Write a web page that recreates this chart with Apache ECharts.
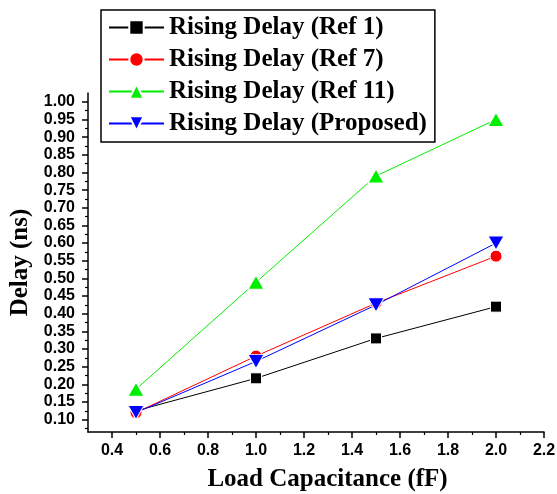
<!DOCTYPE html>
<html>
<head>
<meta charset="utf-8">
<script src="https://cdn.jsdelivr.net/npm/echarts@6/dist/echarts.min.js"></script>
<style>
  html, body { margin: 0; padding: 0; background: #fff; }
  #chart { width: 557px; height: 494px; }
</style>
</head>
<body>
<div id="chart"></div>
<script>
// load capacitance (fF)
const loadCap = [0.5, 1.0, 1.5, 2.0];
// rising delay (ns)
const ref1 = [0.125, 0.217, 0.33, 0.42];
const ref7 = [0.12, 0.28, 0.43, 0.563];
const ref11 = [0.186, 0.489, 0.79, 0.95];
const proposed = [0.12, 0.265, 0.425, 0.6];
const seriesNames = [
  "Rising Delay (Ref 1)",
  "Rising Delay (Ref 7)",
  "Rising Delay (Ref 11)",
  "Rising Delay (Proposed)",
];
// tick labels
const xTicks = [0.4, 0.6, 0.8, 1.0, 1.2, 1.4, 1.6, 1.8, 2.0, 2.2];
const xMinor = [0.5, 0.7, 0.9, 1.1, 1.3, 1.5, 1.7, 1.9, 2.1];
const yTicks = [0.1, 0.15, 0.2, 0.25, 0.3, 0.35, 0.4, 0.45, 0.5, 0.55, 0.6, 0.65, 0.7, 0.75, 0.8, 0.85, 0.9, 0.95, 1.0];
const yMinor = [0.075, 0.125, 0.175, 0.225, 0.275, 0.325, 0.375, 0.425, 0.475, 0.525, 0.575, 0.625, 0.675, 0.725, 0.775, 0.825, 0.875, 0.925, 0.975];

const serif = "'Liberation Serif', 'Times New Roman', serif";
const sans = "'Liberation Sans', Arial, sans-serif";

const chart = echarts.init(document.getElementById("chart"));

const axisLineStyle = { show: true, onZero: false, lineStyle: { color: "#000", width: 1.5 } };

const styles = [
  { color: "#000000", symbol: "rect", size: 11, rotate: 0 },
  { color: "#ff0000", symbol: "circle", size: 12, rotate: 0 },
  { color: "#00ee00", symbol: "triangle", size: [16, 14], rotate: 0 },
  { color: "#0000ff", symbol: "triangle", size: [16, 14], rotate: 180 },
];
const values = [ref1, ref7, ref11, proposed];

const option = {
  animation: false,
  backgroundColor: "#fff",
  grid: {
    left: 88,
    right: 13,
    top: 93,
    bottom: 62,
    containLabel: false,
    outerBoundsMode: "none",
  },
  legend: {
    left: 101,
    top: 10,
    orient: "vertical",
    padding: [5, 8, 6, 7],
    itemWidth: 55,
    itemHeight: 18,
    itemGap: 7,
    borderColor: "#000",
    borderWidth: 1.5,
    textStyle: {
      fontFamily: serif,
      fontWeight: "bold",
      fontSize: 25,
      color: "#000",
    },
    data: seriesNames,
  },
  xAxis: [
    {
      type: "value",
      min: 0.3,
      max: 2.2,
      position: "bottom",
      name: "Load Capacitance (fF)",
      nameLocation: "middle",
      nameGap: 35,
      nameTextStyle: {
        fontFamily: serif,
        fontWeight: "bold",
        fontSize: 25,
        color: "#000",
        padding: [0, 0, 0, 23],
      },
      axisLine: axisLineStyle,
      axisTick: { show: true, inside: false, length: 6, customValues: xTicks, lineStyle: { color: "#000", width: 1.5 } },
      axisLabel: {
        customValues: xTicks,
        margin: 11,
        fontFamily: sans,
        fontWeight: "bold",
        fontSize: 16,
        color: "#000",
        formatter: (v) => v.toFixed(1),
      },
      splitLine: { show: false },
    },
    {
      // minor ticks only
      type: "value",
      min: 0.3,
      max: 2.2,
      position: "bottom",
      offset: 0,
      axisLine: { show: false, onZero: false },
      axisTick: { show: true, length: 3, customValues: xMinor, lineStyle: { color: "#000", width: 1.2 } },
      axisLabel: { show: false },
      splitLine: { show: false },
    },
  ],
  yAxis: [
    {
      type: "value",
      min: 0.065,
      max: 1.025,
      position: "left",
      name: "Delay (ns)",
      nameLocation: "middle",
      nameGap: 55,
      nameRotate: 90,
      nameTextStyle: {
        fontFamily: serif,
        fontWeight: "bold",
        fontSize: 25,
        color: "#000",
      },
      axisLine: axisLineStyle,
      axisTick: { show: true, length: 6, customValues: yTicks, lineStyle: { color: "#000", width: 1.5 } },
      axisLabel: {
        customValues: yTicks,
        margin: 13,
        fontFamily: sans,
        fontWeight: "bold",
        fontSize: 16,
        color: "#000",
        formatter: (v) => v.toFixed(2),
      },
      splitLine: { show: false },
    },
    {
      type: "value",
      min: 0.065,
      max: 1.025,
      position: "left",
      offset: 0,
      axisLine: { show: false, onZero: false },
      axisTick: { show: true, length: 3, customValues: yMinor, lineStyle: { color: "#000", width: 1.2 } },
      axisLabel: { show: false },
      splitLine: { show: false },
    },
  ],
  series: seriesNames.map((name, i) => ({
    name: name,
    type: "line",
    xAxisIndex: 0,
    yAxisIndex: 0,
    symbol: styles[i].symbol,
    symbolSize: styles[i].size,
    symbolRotate: styles[i].rotate,
    showAllSymbol: true,
    lineStyle: { color: styles[i].color, width: 1 },
    itemStyle: { color: styles[i].color, borderColor: "#fff", borderWidth: 1 },
    data: loadCap.map((x, j) => [x, values[i][j]]),
  })),
};

chart.setOption(option);
</script>
</body>
</html>
